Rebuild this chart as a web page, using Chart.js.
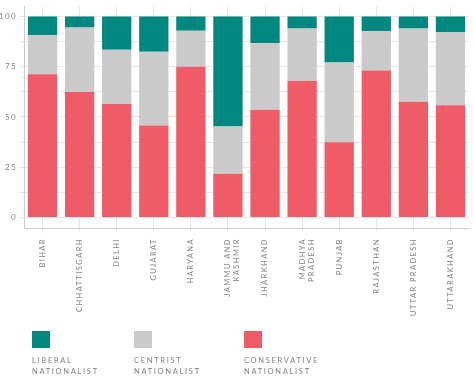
<!DOCTYPE html>
<html>
<head>
<meta charset="utf-8">
<script src="https://cdn.jsdelivr.net/npm/chart.js@4"></script>
<style>
  html, body { margin: 0; padding: 0; background: #fff; }
  canvas { display: block; }
</style>
</head>
<body>
<canvas id="chart" width="474" height="379"></canvas>
<script>
// - data ------------------------------------------------
const states = ['BIHAR', 'CHHATTISGARH', 'DELHI', 'GUJARAT', 'HARYANA', ['JAMMU AND', 'KASHMIR'],
  'JHARKHAND', ['MADHYA', 'PRADESH'], 'PUNJAB', 'RAJASTHAN', 'UTTAR PRADESH', 'UTTARAKHAND'];

const conservative = [71.3, 62.4, 56.5, 45.8, 75.0, 21.8, 53.6, 67.9, 37.4, 73.1, 57.6, 55.8];
const centrist     = [19.4, 32.1, 26.9, 36.6, 17.9, 23.4, 33.2, 26.1, 39.7, 19.6, 36.4, 36.5];
const liberal      = [ 9.3,  5.5, 16.6, 17.6,  7.1, 54.8, 13.2,  6.0, 22.9,  7.3,  6.0,  7.7];

const yTicks = [0, 12.5, 25, 37.5, 50, 62.5, 75, 87.5, 100];

const legendLabels = {
  liberal: ['LIBERAL', 'NATIONALIST'],
  centrist: ['CENTRIST', 'NATIONALIST'],
  conservative: ['CONSERVATIVE', 'NATIONALIST'],
};

const COLORS = { liberal: '#00877f', centrist: '#cacaca', conservative: '#ef5b66' };
const TEXT = '#808080';
const GRID = '#e6e6e6';
const FONT = 'Lato, "Open Sans", sans-serif';
const SPACING = '1.4px';

// letter spacing for all canvas text (needs to be reapplied after canvas resets)
const spacingPlugin = {
  id: 'spacing',
  beforeUpdate(chart) { chart.ctx.letterSpacing = SPACING; },
  beforeDraw(chart) { chart.ctx.letterSpacing = SPACING; },
};

// legend: box on top, two lines of text below
const boxLegendPlugin = {
  id: 'boxLegend',
  afterDraw(chart) {
    const { ctx } = chart;
    const order = ['liberal', 'centrist', 'conservative'];
    const xs = [32, 134, 244];
    ctx.save();
    ctx.letterSpacing = '1.7px';
    order.forEach((key, i) => {
      const ds = chart.data.datasets.find(d => d.key === key);
      ctx.fillStyle = ds.backgroundColor;
      ctx.fillRect(xs[i], 331, 18, 17);
      ctx.fillStyle = TEXT;
      ctx.font = `7.5px ${FONT}`;
      ctx.textAlign = 'left';
      ctx.textBaseline = 'middle';
      legendLabels[key].forEach((line, j) => ctx.fillText(line, xs[i], 361 + j * 11));
    });
    ctx.restore();
  }
};

const ds = (key, data) => ({
  key,
  label: legendLabels[key].join(' '),
  data,
  backgroundColor: COLORS[key],
  borderWidth: 0,
  categoryPercentage: 1,
  barPercentage: 0.79,
});

new Chart(document.getElementById('chart').getContext('2d'), {
  type: 'bar',
  data: {
    labels: states,
    datasets: [ds('conservative', conservative), ds('centrist', centrist), ds('liberal', liberal)],
  },
  options: {
    responsive: false,
    animation: false,
    layout: { padding: { top: 0, right: 5, bottom: 56, left: 0 } },
    scales: {
      x: {
        stacked: true,
        grid: { offset: false, color: GRID, tickLength: 3, drawTicks: true },
        border: { color: '#cccccc' },
        ticks: {
          color: TEXT,
          font: { family: FONT, size: 7.5 },
          minRotation: 90,
          maxRotation: 90,
          autoSkip: false,
          padding: 7,
        },
      },
      y: {
        stacked: true,
        min: -5.3,
        max: 104.8,
        grid: { color: GRID, tickLength: 5 },
        border: { color: '#cccccc' },
        afterBuildTicks(scale) { scale.ticks = yTicks.map(v => ({ value: v })); },
        ticks: {
          color: TEXT,
          font: { family: FONT, size: 8 },
          padding: 2,
          callback: (v) => (v % 25 === 0 ? v : ''),
        },
        afterFit(scale) { scale.width = 24; },
      },
    },
    plugins: {
      legend: { display: false },
      tooltip: { enabled: false },
    },
  },
  plugins: [spacingPlugin, boxLegendPlugin],
});
</script>
</body>
</html>
